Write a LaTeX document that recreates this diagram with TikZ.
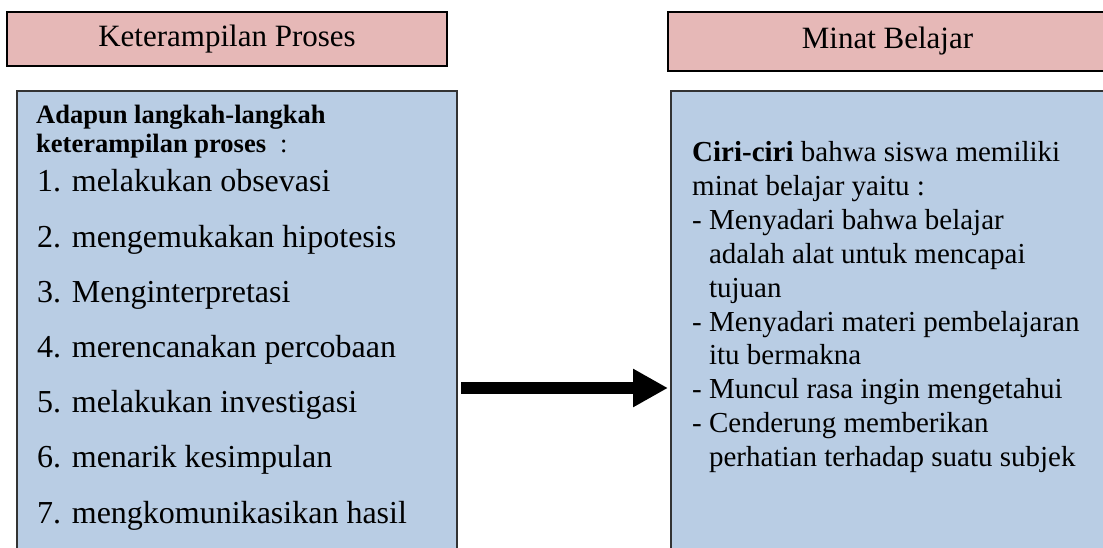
\documentclass[tikz,border=0pt]{standalone}
\usepackage{fontspec}
\setmainfont{Liberation Serif}
\usetikzlibrary{arrows.meta}
\definecolor{hdrpink}{HTML}{E6B8B7}
\definecolor{boxblue}{HTML}{B9CDE4}
\begin{document}
\begin{tikzpicture}[x=1pt,y=-1pt,
  hdr/.style={draw=black, line width=2pt, fill=hdrpink, inner sep=0pt,
    font=\fontsize{31}{36}\selectfont},
  panel/.style={draw=black!80, line width=1.6pt, fill=boxblue, inner sep=0pt,
    anchor=north west, minimum width=440pt, minimum height=500pt},
  txt/.style={anchor=base west, inner sep=0pt},
  boldtxt/.style={txt, font=\fontsize{26.5}{30}\selectfont\bfseries},
  itemtxt/.style={txt, font=\fontsize{32}{36}\selectfont},
  ritem/.style={txt, font=\fontsize{29}{34}\selectfont},
  bigarrow/.style={line width=12pt, -{Triangle[length=35pt,width=36pt]}}
]
\useasboundingbox (0,0) rectangle (1103,548);
\clip (0,0) rectangle (1103,548);

% headers
\node[hdr, minimum width=440pt, minimum height=54pt] (h1) at (227,39) {Keterampilan Proses};
\node[hdr, minimum width=460pt, minimum height=59pt] (h2) at (898,41.5) {\hspace*{-21pt}Minat Belajar};

% panels
\node[panel] (lbox) at (16,90) {};
\node[panel, minimum width=470pt] (rbox) at (670,90) {};

% left text
\node[boldtxt] (l0) at (36,124) {Adapun langkah-langkah};
\node[boldtxt] (l1) at (36,153) {keterampilan proses\hspace{14pt}\mdseries:};
\node[itemtxt] (i1) at (37,192) {1. melakukan obsevasi};
\node[itemtxt] (i2) at (37,247.2) {2. mengemukakan hipotesis};
\node[itemtxt] (i3) at (37,302.3) {3. Menginterpretasi};
\node[itemtxt] (i4) at (37,357.5) {4. merencanakan percobaan};
\node[itemtxt] (i5) at (37,412.7) {5. melakukan investigasi};
\node[itemtxt] (i6) at (37,467.8) {6. menarik kesimpulan};
\node[itemtxt] (i7) at (37,523) {7. mengkomunikasikan hasil};

% right text
\node[ritem] (r1) at (692,161.5) {\textbf{Ciri-ciri} bahwa siswa memiliki};
\node[ritem] (r2) at (692,195.4) {minat belajar yaitu :};
\node[ritem] (r3) at (692,229.3) {- Menyadari bahwa belajar};
\node[ritem] (r4) at (692,263.2) {\phantom{- }adalah alat untuk mencapai};
\node[ritem] (r5) at (692,297.1) {\phantom{- }tujuan};
\node[ritem] (r6) at (692,331.0) {- Menyadari materi pembelajaran};
\node[ritem] (r7) at (692,364.9) {\phantom{- }itu bermakna};
\node[ritem] (r8) at (692,398.8) {- Muncul rasa ingin mengetahui};
\node[ritem] (r9) at (692,432.7) {- Cenderung memberikan};
\node[ritem] (r10) at (692,466.6) {\phantom{- }perhatian terhadap suatu subjek};

% arrow
\coordinate (a1) at (461,388);
\coordinate (a2) at (668,388);
\draw[bigarrow] (a1) -- (a2);
\end{tikzpicture}
\end{document}
